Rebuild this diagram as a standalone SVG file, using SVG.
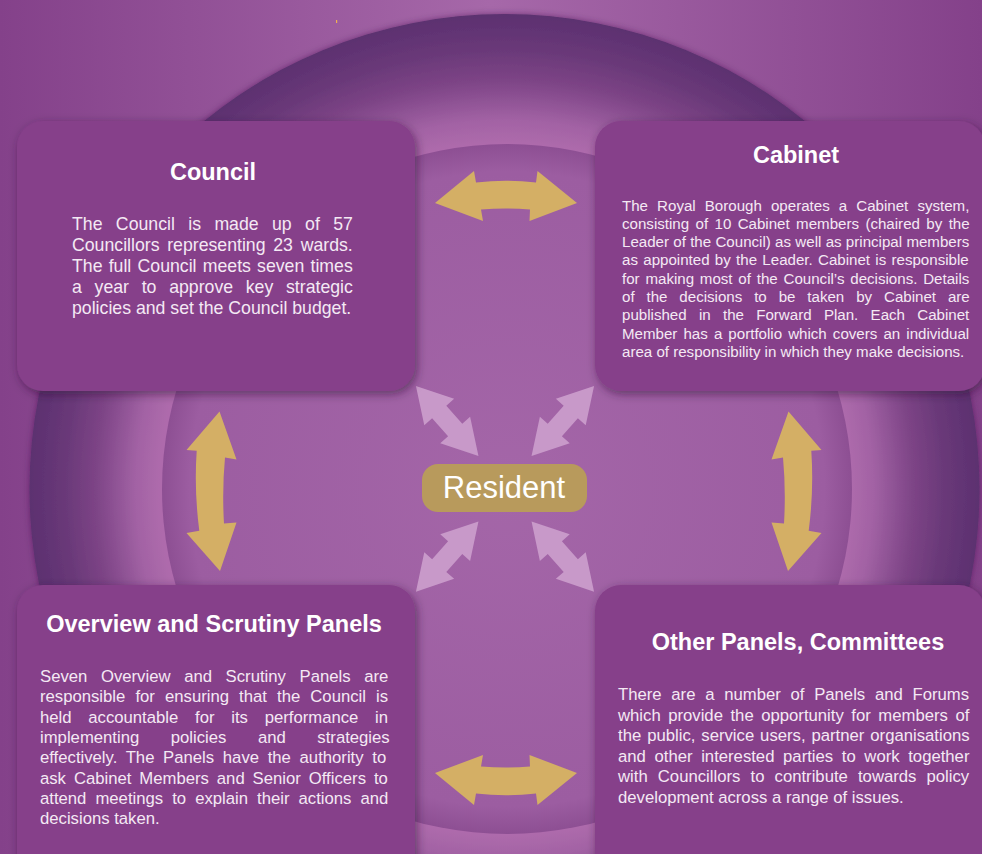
<svg xmlns="http://www.w3.org/2000/svg" width="982" height="854" viewBox="0 0 982 854">
  <defs>
    <linearGradient id="bg" x1="0" y1="0" x2="982" y2="0" gradientUnits="userSpaceOnUse">
      <stop offset="0" stop-color="#84418a"/>
      <stop offset="0.5" stop-color="#a668a9"/>
      <stop offset="1" stop-color="#84418a"/>
    </linearGradient>
    <radialGradient id="ring" cx="504.5" cy="489" r="475" gradientUnits="userSpaceOnUse">
      <stop offset="0.726" stop-color="#ae6bac"/>
      <stop offset="0.777" stop-color="#a262a4"/>
      <stop offset="0.819" stop-color="#8f5395"/>
      <stop offset="0.861" stop-color="#7d4486"/>
      <stop offset="0.924" stop-color="#6a3979"/>
      <stop offset="1" stop-color="#5c3070"/>
    </radialGradient>
    <radialGradient id="disc" cx="507" cy="489" r="345" gradientUnits="userSpaceOnUse">
      <stop offset="0" stop-color="#a466a8"/>
      <stop offset="0.92" stop-color="#9c5da1"/>
      <stop offset="1" stop-color="#8d4f93"/>
    </radialGradient>
    <filter id="shadow" x="-10%" y="-10%" width="120%" height="125%">
      <feDropShadow dx="2" dy="3" stdDeviation="5" flood-color="#2e0c36" flood-opacity="0.55"/>
    </filter>
    <filter id="halo" x="-10%" y="-10%" width="120%" height="120%">
      <feDropShadow dx="0" dy="0" stdDeviation="3" flood-color="#3a1547" flood-opacity="0.5"/>
    </filter>
    <path id="pinkArrow" d="M-47,0 L-12,-20 L-12,-9.5 L12,-9.5 L12,-20 L47,0 L12,20 L12,9.5 L-12,9.5 L-12,20 Z"/>
    <path id="goldH" d="M435,203 L474,171 L476,182.5 Q506,179 536,182.5 L537.5,171 L577,203 L529.5,221 L530,209.5 Q506,207.3 481,209.5 L483,221 Z"/>
    <path id="goldV" d="M219.5,411.5 L236.5,459.5 L225,457.5 Q222,490 224,523.5 L236.5,522.5 L220,571 L186.5,533 L199.3,530.7 Q194,490 196.7,450.7 L186.5,450 Z"/>
  </defs>
  <style>
    .box { fill: #863f8a; filter: url(#shadow); }
    .title { font-family: "Liberation Sans", Arial, sans-serif; font-weight: bold; font-size: 23.5px; fill: #ffffff; text-anchor: middle; }
    .body { font-family: "Liberation Sans", Arial, sans-serif; fill: #f4e9f4; }
    .gold { fill: #d4af65; }
    .pink { fill: #c899c9; }
  </style>

  <!-- backdrop -->
  <rect x="0" y="0" width="982" height="854" fill="url(#bg)"/>
  <circle cx="504.5" cy="489" r="475" fill="url(#ring)" filter="url(#halo)"/>
  <circle cx="507" cy="489" r="345" fill="url(#disc)"/>
  <rect x="336" y="20" width="1.2" height="3" fill="#f0b050"/>

  <!-- connectors -->
  <g id="connectors">
    <use href="#goldH" class="gold"/>
    <use href="#goldH" class="gold" transform="translate(0,976) scale(1,-1)"/>
    <use href="#goldV" class="gold"/>
    <use href="#goldV" class="gold" transform="translate(1008,0) scale(-1,1)"/>
    <use href="#pinkArrow" class="pink" transform="translate(447.2,421) rotate(48.3)"/>
    <use href="#pinkArrow" class="pink" transform="translate(562.8,421) rotate(-48.3)"/>
    <use href="#pinkArrow" class="pink" transform="translate(447.2,556.6) rotate(-48.3)"/>
    <use href="#pinkArrow" class="pink" transform="translate(562.8,556.6) rotate(48.3)"/>
  </g>

  <!-- Council -->
  <g id="council">
    <rect class="box" x="17" y="121" width="398" height="270" rx="26"/>
    <text class="title" x="213" y="180">Council</text>
    <g class="body" font-size="17.7">
      <text x="72" y="229.5" word-spacing="8.47">The Council is made up of 57</text>
      <text x="72" y="250.7" word-spacing="2.8">Councillors representing 23 wards.</text>
      <text x="72" y="271.9" word-spacing="1.3">The full Council meets seven times</text>
      <text x="72" y="293.1" word-spacing="7.8">a year to approve key strategic</text>
      <text x="72" y="314.3">policies and set the Council budget.</text>
    </g>
  </g>

  <!-- Cabinet -->
  <g id="cabinet">
    <rect class="box" x="595" y="121" width="390" height="270" rx="26"/>
    <text class="title" x="796" y="163">Cabinet</text>
    <g class="body" font-size="15.1">
      <text x="622" y="210.5" word-spacing="4.9">The Royal Borough operates a Cabinet system,</text>
      <text x="622" y="228.8" word-spacing="2.2">consisting of 10 Cabinet members (chaired by the</text>
      <text x="622" y="247.1" word-spacing="0.1">Leader of the Council) as well as principal members</text>
      <text x="622" y="265.4" word-spacing="1.1">as appointed by the Leader. Cabinet is responsible</text>
      <text x="622" y="283.7" word-spacing="1.6">for making most of the Council’s decisions. Details</text>
      <text x="622" y="302" word-spacing="7.7">of the decisions to be taken by Cabinet are</text>
      <text x="622" y="320.3" word-spacing="8.1">published in the Forward Plan. Each Cabinet</text>
      <text x="622" y="338.6" word-spacing="1.9">Member has a portfolio which covers an individual</text>
      <text x="622" y="356.9">area of responsibility in which they make decisions.</text>
    </g>
  </g>

  <!-- Resident -->
  <g id="resident">
    <rect x="422" y="464" width="165" height="48" rx="16" fill="#b89a5c"/>
    <text x="504" y="498" font-family="Liberation Sans, Arial, sans-serif" font-size="31" fill="#ffffff" text-anchor="middle">Resident</text>
  </g>

  <!-- Overview and Scrutiny Panels -->
  <g id="overview-scrutiny">
    <rect class="box" x="17" y="585" width="398" height="300" rx="26"/>
    <text class="title" x="214" y="632">Overview and Scrutiny Panels</text>
    <g class="body" font-size="16.7">
      <text x="40" y="682" word-spacing="9.0">Seven Overview and Scrutiny Panels are</text>
      <text x="40" y="702.3" word-spacing="5.45">responsible for ensuring that the Council is</text>
      <text x="40" y="722.6" word-spacing="12.1">held accountable for its performance in</text>
      <text x="40" y="742.9" word-spacing="26.9">implementing policies and strategies</text>
      <text x="40" y="763.2" word-spacing="4.05">effectively. The Panels have the authority to</text>
      <text x="40" y="783.5" word-spacing="3.3">ask Cabinet Members and Senior Officers to</text>
      <text x="40" y="803.8" word-spacing="4.4">attend meetings to explain their actions and</text>
      <text x="40" y="824.1">decisions taken.</text>
    </g>
  </g>

  <!-- Other Panels, Committees -->
  <g id="other-panels">
    <rect class="box" x="595" y="585" width="390" height="300" rx="26"/>
    <text class="title" x="798" y="650">Other Panels, Committees</text>
    <g class="body" font-size="16.7">
      <text x="618" y="700" word-spacing="5.1">There are a number of Panels and Forums</text>
      <text x="618" y="720.6" word-spacing="2.9">which provide the opportunity for members of</text>
      <text x="618" y="741.2" word-spacing="1.3">the public, service users, partner organisations</text>
      <text x="618" y="761.8" word-spacing="4.0">and other interested parties to work together</text>
      <text x="618" y="782.4" word-spacing="5.5">with Councillors to contribute towards policy</text>
      <text x="618" y="803">development across a range of issues.</text>
    </g>
  </g>
</svg>
